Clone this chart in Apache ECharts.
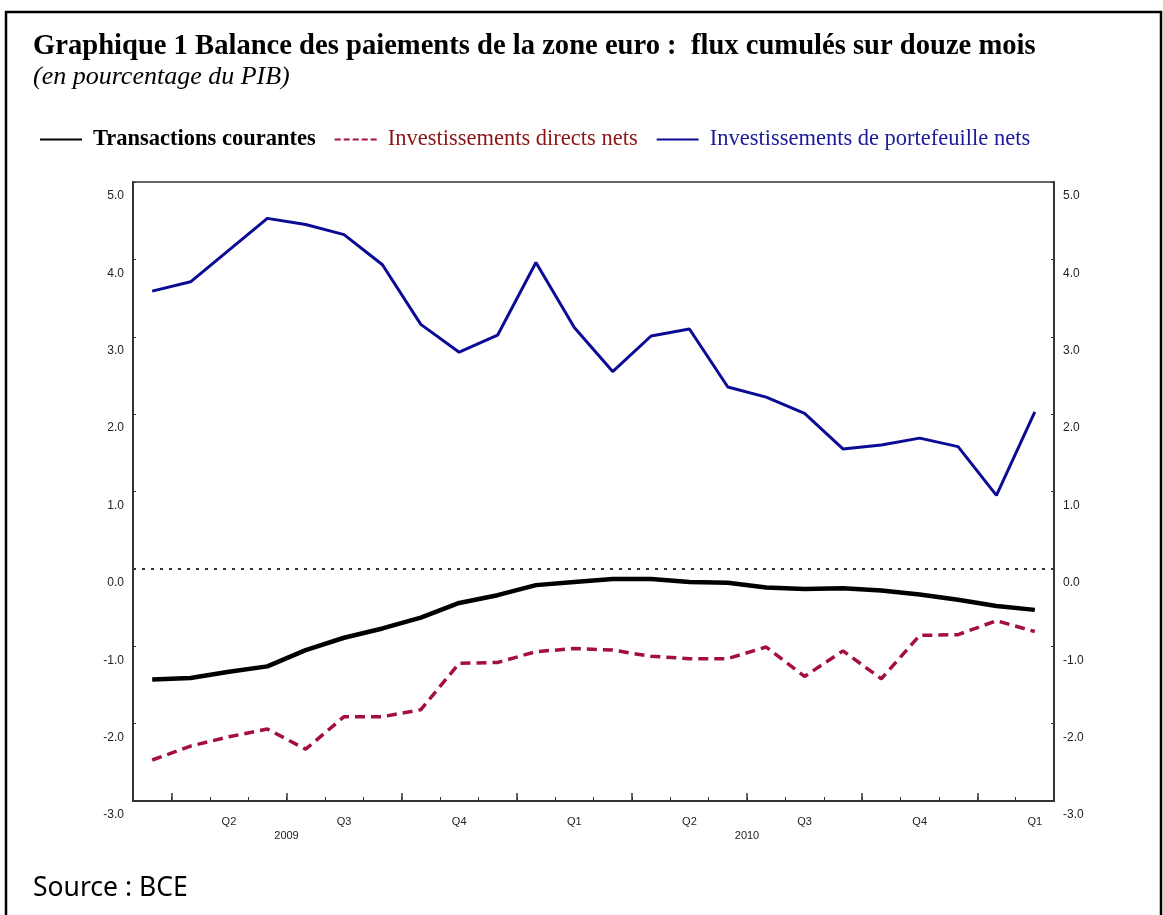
<!DOCTYPE html>
<html>
<head>
<meta charset="utf-8">
<script src="https://cdn.jsdelivr.net/npm/echarts@6/dist/echarts.min.js"></script>
<style>
  html, body { margin: 0; padding: 0; background: #fff; }
  #chart { width: 1163px; height: 915px; }
</style>
</head>
<body>
<div id="chart"></div>
<script>
// mois : mars 2009 -> février 2011
const months = [
  "2009-03", "2009-04", "2009-05", "2009-06", "2009-07", "2009-08",
  "2009-09", "2009-10", "2009-11", "2009-12", "2010-01", "2010-02",
  "2010-03", "2010-04", "2010-05", "2010-06", "2010-07", "2010-08",
  "2010-09", "2010-10", "2010-11", "2010-12", "2011-01", "2011-02"
];
// libellés trimestriels (au mois central de chaque trimestre)
const quarterLabels = [
  "", "", "Q2", "", "", "Q3", "", "", "Q4", "", "", "Q1",
  "", "", "Q2", "", "", "Q3", "", "", "Q4", "", "", "Q1"
];
// libellés d'année, positionnés sur la frontière de bande (en nombre de mois)
const yearLabels = { 4: "2009", 16: "2010" };

const transactionsCourantes = [
  -1.43, -1.41, -1.33, -1.26, -1.05, -0.89, -0.77, -0.63, -0.44, -0.34, -0.21, -0.17,
  -0.13, -0.13, -0.17, -0.18, -0.24, -0.26, -0.25, -0.28, -0.33, -0.40, -0.48, -0.53
];
const investDirects = [
  -2.47, -2.29, -2.17, -2.07, -2.33, -1.91, -1.91, -1.82, -1.22, -1.21, -1.07, -1.03,
  -1.05, -1.13, -1.16, -1.16, -1.01, -1.39, -1.06, -1.42, -0.86, -0.85, -0.67, -0.81
];
const investPortefeuille = [
  3.59, 3.71, 4.12, 4.53, 4.45, 4.32, 3.93, 3.16, 2.80, 3.02, 3.96, 3.12,
  2.55, 3.01, 3.10, 2.35, 2.22, 2.01, 1.55, 1.60, 1.69, 1.58, 0.95, 2.03
];

const serif = "'Liberation Serif', 'Times New Roman', serif";
const sans = "'Liberation Sans', Arial, sans-serif";
const blue = "#0b0b96";
const red = "#a3103f";

let myChart = echarts.init(document.getElementById("chart"));

const yAxisCommon = {
  type: "value",
  min: -3,
  max: 5,
  interval: 1,
  axisLine: { show: true, lineStyle: { color: "#333", width: 2 } },
  axisTick: { show: true, inside: true, length: 3, lineStyle: { color: "#333" } },
  splitLine: { show: false },
  axisLabel: {
    formatter: (v) => v.toFixed(1),
    fontFamily: sans,
    fontSize: 12,
    color: "#222",
    verticalAlign: "top",
    padding: [8, 0, 0, 0],
    margin: 9
  }
};

let option = {
  backgroundColor: "#fff",
  animation: false,
  title: {
    text: "Graphique 1 Balance des paiements de la zone euro :  flux cumulés sur douze mois",
    subtext: "(en pourcentage du PIB)",
    left: 28,
    top: 27,
    itemGap: 3,
    textStyle: { fontFamily: serif, fontSize: 28.6, fontWeight: "bold", color: "#000" },
    subtextStyle: { fontFamily: serif, fontSize: 26, fontStyle: "italic", color: "#000" }
  },
  legend: {
    left: 35,
    top: 123,
    itemGap: 19,
    itemWidth: 42,
    itemHeight: 2,
    selectedMode: false,
    textStyle: { fontFamily: serif, fontSize: 22.5, padding: [0, 0, 0, 6] },
    data: [
      { name: "Transactions courantes", icon: "rect",
        textStyle: { fontWeight: "bold", color: "#000" } },
      { name: "Investissements directs nets",
        icon: "path://M0,0h6v2h-6z M9,0h6v2h-6z M18,0h6v2h-6z M27,0h6v2h-6z M36,0h6v2h-6z",
        textStyle: { color: "#8c1515" } },
      { name: "Investissements de portefeuille nets", icon: "rect",
        textStyle: { color: "#1a1a9a" } }
    ]
  },
  grid: {
    left: 133,
    right: 109,
    top: 182,
    bottom: 114,
    show: true,
    borderColor: "#333",
    borderWidth: 1.5
  },
  xAxis: [
    {
      // trimestres + grands tirets
      type: "category",
      data: months,
      boundaryGap: true,
      position: "bottom",
      axisLine: { show: true, onZero: false, lineStyle: { color: "#333", width: 2 } },
      axisTick: {
        show: true, inside: true, length: 8,
        interval: (i) => i % 3 === 1,
        lineStyle: { color: "#333", width: 1.5 }
      },
      axisLabel: {
        interval: 0,
        formatter: (v, i) => quarterLabels[i],
        fontFamily: sans, fontSize: 11, color: "#222", margin: 15
      }
    },
    {
      // petits tirets mensuels + années
      type: "value",
      min: 0,
      max: 24,
      interval: 1,
      position: "bottom",
      axisLine: { show: false, onZero: false },
      axisTick: { show: true, inside: true, length: 4, lineStyle: { color: "#333" } },
      splitLine: { show: false },
      axisLabel: {
        formatter: (v) => yearLabels[v] || "",
        fontFamily: sans, fontSize: 11, color: "#222", margin: 29
      }
    }
  ],
  yAxis: [
    Object.assign({}, yAxisCommon, { position: "left" }),
    Object.assign({}, yAxisCommon, { position: "right" })
  ],
  series: [
    {
      name: "Transactions courantes",
      type: "line",
      data: transactionsCourantes,
      showSymbol: false,
      color: "#000",
      lineStyle: { color: "#000", width: 4.5 },
      markLine: {
        silent: true,
        symbol: "none",
        label: { show: false },
        lineStyle: { color: "#333", width: 2, type: [3, 6] },
        data: [{ yAxis: 0 }]
      }
    },
    {
      name: "Investissements directs nets",
      type: "line",
      data: investDirects,
      showSymbol: false,
      color: red,
      lineStyle: { color: red, width: 3.5, type: [10, 6] }
    },
    {
      name: "Investissements de portefeuille nets",
      type: "line",
      data: investPortefeuille,
      showSymbol: false,
      color: blue,
      lineStyle: { color: blue, width: 3 }
    }
  ],
  graphic: [
    {
      type: "rect",
      shape: { x: 6, y: 12, width: 1155, height: 910 },
      style: { fill: "none", stroke: "#000", lineWidth: 2.5 },
      silent: true
    },
    {
      type: "text",
      left: 33,
      top: 875,
      style: { text: "Source : BCE", font: "26.5px 'Noto Sans', sans-serif", fill: "#000" }
    }
  ]
};

option && myChart.setOption(option);
window.addEventListener("resize", () => {
  myChart.resize();
});
</script>
</body>
</html>
